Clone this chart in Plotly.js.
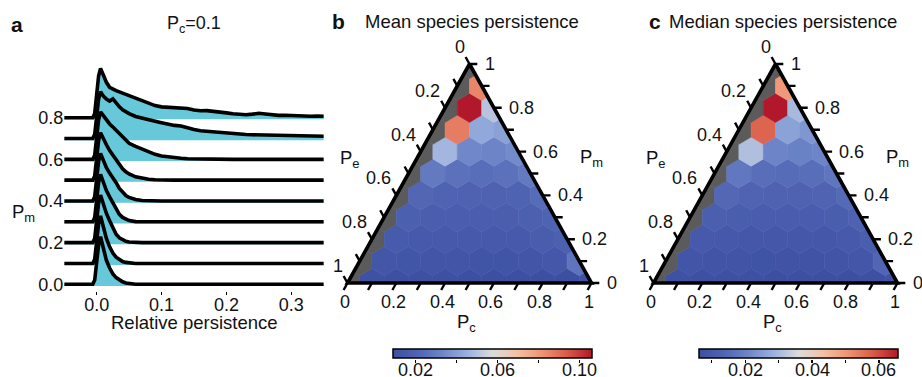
<!DOCTYPE html>
<html>
<head>
<meta charset="utf-8">
<script src="https://cdn.plot.ly/plotly-3.0.1.min.js"></script>
<style>
  html, body { margin: 0; padding: 0; background: #ffffff; }
  #chart { width: 922px; height: 377px; }
</style>
</head>
<body>
<div id="chart"></div>
<script>
// ---------- Panel a: distributions of relative persistence (Pc = 0.1) ----------
const persistX = [-0.05, -0.006, -0.003, 0, 0.003, 0.006, 0.01, 0.015, 0.02, 0.025,
  0.03, 0.035, 0.04, 0.045, 0.05, 0.06, 0.07, 0.08, 0.09, 0.1,
  0.11, 0.12, 0.13, 0.14, 0.15, 0.16, 0.17, 0.18, 0.19, 0.2,
  0.21, 0.22, 0.23, 0.24, 0.25, 0.26, 0.27, 0.28, 0.29, 0.3,
  0.31, 0.32, 0.33, 0.34, 0.35];

const pmLevels = [0.8, 0.7, 0.6, 0.5, 0.4, 0.3, 0.2, 0.1, 0.0];
const pmTickVals = [0, 0.2, 0.4, 0.6, 0.8];
const pmTickText = ['0.0', '0.2', '0.4', '0.6', '0.8'];
const persistTickVals = [0, 0.1, 0.2, 0.3];
const persistTickText = ['0.0', '0.1', '0.2', '0.3'];

const density08 = [0, 0, 0.02, 0.11, 0.20, 0.237, 0.205, 0.17, 0.146, 0.136,
  0.13, 0.124, 0.118, 0.11, 0.103, 0.09, 0.078, 0.067, 0.058, 0.052,
  0.05, 0.047, 0.042, 0.044, 0.037, 0.033, 0.034, 0.029, 0.027, 0.023,
  0.019, 0.017, 0.014, 0.017, 0.021, 0.018, 0.014, 0.011, 0.012, 0.010,
  0.009, 0.008, 0.007, 0.008, 0.007];
const density07 = [0, 0, 0.02, 0.10, 0.19, 0.225, 0.205, 0.19, 0.18, 0.19,
  0.168, 0.152, 0.138, 0.128, 0.12, 0.106, 0.097, 0.09, 0.083, 0.076,
  0.069, 0.063, 0.06, 0.05, 0.043, 0.037, 0.034, 0.03, 0.027, 0.025,
  0.022, 0.022, 0.019, 0.018, 0.017, 0.016, 0.015, 0.016, 0.014, 0.013,
  0.012, 0.013, 0.012, 0.011, 0.011];
const density06 = [0, 0, 0.02, 0.10, 0.19, 0.228, 0.21, 0.19, 0.17, 0.155,
  0.14, 0.122, 0.104, 0.09, 0.077, 0.062, 0.048, 0.035, 0.024, 0.016,
  0.011, 0.007, 0.005, 0.003, 0.002, 0.001, 0, 0, 0, 0,
  0, 0, 0, 0, 0, 0, 0, 0, 0, 0,
  0, 0, 0, 0, 0];
const density05 = [0, 0, 0.02, 0.10, 0.19, 0.228, 0.20, 0.17, 0.142, 0.12,
  0.1, 0.076, 0.055, 0.04, 0.03, 0.016, 0.008, 0.004, 0.002, 0,
  0, 0, 0, 0, 0, 0, 0, 0, 0, 0,
  0, 0, 0, 0, 0, 0, 0, 0, 0, 0,
  0, 0, 0, 0, 0];
const density04 = [0, 0, 0.02, 0.10, 0.19, 0.228, 0.195, 0.16, 0.134, 0.114,
  0.088, 0.06, 0.04, 0.026, 0.017, 0.007, 0.002, 0, 0, 0,
  0, 0, 0, 0, 0, 0, 0, 0, 0, 0,
  0, 0, 0, 0, 0, 0, 0, 0, 0, 0,
  0, 0, 0, 0, 0];
const density03 = [0, 0, 0.02, 0.10, 0.19, 0.228, 0.19, 0.15, 0.12, 0.09,
  0.06, 0.036, 0.021, 0.011, 0.006, 0.001, 0, 0, 0, 0,
  0, 0, 0, 0, 0, 0, 0, 0, 0, 0,
  0, 0, 0, 0, 0, 0, 0, 0, 0, 0,
  0, 0, 0, 0, 0];
const density02 = [0, 0, 0.02, 0.10, 0.19, 0.228, 0.185, 0.14, 0.105, 0.068,
  0.04, 0.023, 0.012, 0.006, 0.003, 0, 0, 0, 0, 0,
  0, 0, 0, 0, 0, 0, 0, 0, 0, 0,
  0, 0, 0, 0, 0, 0, 0, 0, 0, 0,
  0, 0, 0, 0, 0];
const density01 = [0, 0, 0.02, 0.10, 0.19, 0.228, 0.175, 0.12, 0.08, 0.05,
  0.03, 0.017, 0.009, 0.005, 0.002, 0, 0, 0, 0, 0,
  0, 0, 0, 0, 0, 0, 0, 0, 0, 0,
  0, 0, 0, 0, 0, 0, 0, 0, 0, 0,
  0, 0, 0, 0, 0];
const density00 = [0, 0, 0.02, 0.10, 0.19, 0.228, 0.17, 0.115, 0.078, 0.05,
  0.032, 0.02, 0.012, 0.006, 0.003, 0, 0, 0, 0, 0,
  0, 0, 0, 0, 0, 0, 0, 0, 0, 0,
  0, 0, 0, 0, 0, 0, 0, 0, 0, 0,
  0, 0, 0, 0, 0];
const densities = [density08, density07, density06, density05, density04,
  density03, density02, density01, density00];

// ---------- Panels b, c: hexagon cells, rows by Pm (0 .. 1), columns by Pc ----------
// null = no persistence recorded (drawn grey)
const gridStep = 0.1;
const meanPersistence = [
  [null, 0.0105, 0.0100, 0.0098, 0.0096, 0.0095, 0.0094, 0.0093, 0.0092, 0.0095, 0.0110],
  [null, 0.0135, 0.0130, 0.0128, 0.0126, 0.0125, 0.0125, 0.0128, 0.0140, 0.0270],
  [null, 0.0160, 0.0155, 0.0150, 0.0150, 0.0150, 0.0155, 0.0170, 0.0190],
  [null, 0.0190, 0.0180, 0.0175, 0.0175, 0.0180, 0.0190, 0.0210],
  [null, 0.0220, 0.0210, 0.0200, 0.0200, 0.0210, 0.0240],
  [null, 0.0290, 0.0260, 0.0250, 0.0260, 0.0290],
  [null, 0.0470, 0.0340, 0.0330, 0.0350],
  [null, 0.0870, 0.0430, 0.0410],
  [null, 0.1062, 0.0510],
  [null, 0.0850],
  [null]
];
const medianPersistence = [
  [null, 0.0070, 0.0068, 0.0066, 0.0065, 0.0064, 0.0064, 0.0063, 0.0064, 0.0066, 0.0075],
  [null, 0.0085, 0.0082, 0.0080, 0.0079, 0.0078, 0.0078, 0.0080, 0.0088, 0.0140],
  [null, 0.0100, 0.0095, 0.0093, 0.0092, 0.0092, 0.0093, 0.0100, 0.0115],
  [null, 0.0120, 0.0115, 0.0110, 0.0110, 0.0110, 0.0115, 0.0130],
  [null, 0.0145, 0.0135, 0.0130, 0.0130, 0.0135, 0.0150],
  [null, 0.0180, 0.0160, 0.0155, 0.0160, 0.0175],
  [null, 0.0310, 0.0210, 0.0200, 0.0210],
  [null, 0.0570, 0.0260, 0.0240],
  [null, 0.0658, 0.0300],
  [null, 0.0500],
  [null]
];
const meanRange = [0.0092, 0.1062];
const medianRange = [0.0063, 0.0658];
const meanBarTicks = [0.02, 0.04, 0.06, 0.08, 0.10];
const meanBarLabels = [0.02, 0.06, 0.10];
const meanBarText = ['0.02', '0.06', '0.10'];
const medianBarTicks = [0.01, 0.02, 0.03, 0.04, 0.05, 0.06];
const medianBarLabels = [0.02, 0.04, 0.06];
const medianBarText = ['0.02', '0.04', '0.06'];
const ternaryTickVals = [0, 0.1, 0.2, 0.3, 0.4, 0.5, 0.6, 0.7, 0.8, 0.9, 1];
const ternaryLabelVals = [0, 0.2, 0.4, 0.6, 0.8, 1];
const ternaryLabelText = ['0', '0.2', '0.4', '0.6', '0.8', '1'];

// ---------- styling ----------
const W = 922, H = 377;
const FONT = 'Liberation Sans, Arial, Helvetica, sans-serif';
const INK = '#111111';
const RIDGE_FILL = '#66C8D8';
const EMPTY_CELL = '#5B5B5B';
const divergingScale = [
  [0, '#3C4FA2'], [0.125, '#5064B3'], [0.25, '#6E86C8'], [0.375, '#9BB1DF'],
  [0.5, '#DCDCDC'], [0.625, '#F3C0A6'], [0.75, '#EF9374'], [0.875, '#D95B48'],
  [1, '#B2182B']
];
// colour bar geometry (pixels)
const BAR_TOP = 349, BAR_BOTTOM = 358.5, BAR_LABEL_Y = 370;
const BAR_B = [393.3, 592.3], BAR_C = [699.3, 898.3];

const px2x = px => px / W;
const px2y = py => 1 - py / H;
const xDom = (a, b) => [a / W, b / W];
const yDom = (top, bottom) => [1 - bottom / H, 1 - top / H];

function hexToRgb(h) {
  const n = parseInt(h.slice(1), 16);
  return [(n >> 16) & 255, (n >> 8) & 255, n & 255];
}
function scaleColor(v, lo, hi) {
  let t = (v - lo) / (hi - lo);
  t = Math.max(0, Math.min(1, t));
  for (let k = 1; k < divergingScale.length; k++) {
    const [t1, c1] = divergingScale[k];
    const [t0, c0] = divergingScale[k - 1];
    if (t <= t1) {
      const f = (t - t0) / (t1 - t0);
      const a = hexToRgb(c0), b = hexToRgb(c1);
      const m = a.map((x, i) => Math.round(x + (b[i] - x) * f));
      return `rgb(${m[0]},${m[1]},${m[2]})`;
    }
  }
  return divergingScale[divergingScale.length - 1][1];
}

// ternary (Pc, Pm) -> plane coordinates; the Pe = 1 corner sits at the origin
const toPlane = (pc, pm) => [pc + pm / 2, pm];

// clip a polygon to the simplex using its three edge half-planes
const edgeTests = [
  p => p[1],                 // Pm >= 0
  p => 2 * p[0] - p[1],      // Pc >= 0
  p => 2 - 2 * p[0] - p[1]   // Pe >= 0
];
function clipToSimplex(poly) {
  let out = poly;
  edgeTests.forEach(f => {
    const inp = out; out = [];
    for (let i = 0; i < inp.length; i++) {
      const a = inp[i], b = inp[(i + 1) % inp.length];
      const fa = f(a), fb = f(b);
      if (fa >= 0) out.push(a);
      if ((fa >= 0) !== (fb >= 0)) {
        const s = fa / (fa - fb);
        out.push([a[0] + (b[0] - a[0]) * s, a[1] + (b[1] - a[1]) * s]);
      }
    }
  });
  return out;
}

const traces = [];

// ---------- panel a traces: lower ridges drawn over upper ones ----------
const fillDrop = 0.008;
pmLevels.forEach((lv, i) => {
  const top = densities[i].map(v => lv + v);
  const base = persistX.map(() => lv - fillDrop);
  traces.push({
    x: persistX.concat(persistX.slice().reverse()),
    y: top.concat(base.slice().reverse()),
    mode: 'lines', fill: 'toself', fillcolor: RIDGE_FILL,
    line: { width: 0 }, xaxis: 'x', yaxis: 'y',
    hoverinfo: 'skip', showlegend: false
  });
  traces.push({
    x: persistX, y: top, mode: 'lines',
    line: { color: '#000000', width: 3.6 },
    xaxis: 'x', yaxis: 'y', hoverinfo: 'skip', showlegend: false
  });
});

// ---------- panels b, c ----------
function ternaryPanel(grid, range, xa, ya, barPx, barLabels, barText, tickAxis) {
  const cx = [], cy = [], cv = [];
  grid.forEach((row, j) => {
    const pm = j * gridStep;
    row.forEach((val, i) => {
      const pc = i * gridStep;
      const [X, Y] = toPlane(pc, pm);
      const hw = gridStep / 2, hv = gridStep / 3;
      const hex = [[X, Y + 2 * hv], [X + hw, Y + hv], [X + hw, Y - hv],
                   [X, Y - 2 * hv], [X - hw, Y - hv], [X - hw, Y + hv]];
      const poly = clipToSimplex(hex);
      if (poly.length < 3) return;
      const col = val === null ? EMPTY_CELL : scaleColor(val, range[0], range[1]);
      traces.push({
        x: poly.map(p => p[0]).concat([poly[0][0]]),
        y: poly.map(p => p[1]).concat([poly[0][1]]),
        mode: 'lines', fill: 'toself', fillcolor: col,
        line: { color: col, width: 0.6 },
        xaxis: xa, yaxis: ya, hoverinfo: 'skip', showlegend: false
      });
      if (val !== null) { cx.push(X); cy.push(Y); cv.push(val); }
    });
  });

  // triangle frame
  const corners = [toPlane(0, 0), toPlane(1, 0), toPlane(0, 1)];
  traces.push({
    x: [corners[0][0], corners[1][0], corners[2][0], corners[0][0], corners[1][0]],
    y: [corners[0][1], corners[1][1], corners[2][1], corners[0][1], corners[1][1]],
    mode: 'lines', line: { color: '#000000', width: 3.6 },
    xaxis: xa, yaxis: ya, hoverinfo: 'skip', showlegend: false
  });

  // tick marks: each one continues a grid line beyond its edge
  const t = 0.032;
  const tx = [], ty = [];
  ternaryTickVals.forEach(v => {
    // Pc along the bottom edge
    let a = toPlane(v, 0), b = toPlane(v, -t);
    tx.push(a[0], b[0], null); ty.push(a[1], b[1], null);
    // Pm along the right edge
    a = toPlane(1 - v, v); b = toPlane(1 - v + t, v);
    tx.push(a[0], b[0], null); ty.push(a[1], b[1], null);
    // Pe along the left edge
    a = toPlane(0, 1 - v); b = toPlane(-t, 1 - v + t);
    tx.push(a[0], b[0], null); ty.push(a[1], b[1], null);
  });
  traces.push({
    x: tx, y: ty, mode: 'lines', line: { color: '#000000', width: 2.4 },
    xaxis: xa, yaxis: ya, hoverinfo: 'skip', showlegend: false
  });

  // colour bar carrier
  traces.push({
    x: cx, y: cy, mode: 'markers', xaxis: xa, yaxis: ya,
    hoverinfo: 'skip', showlegend: false,
    marker: {
      size: 1, opacity: 0, color: cv, colorscale: divergingScale,
      cmin: range[0], cmax: range[1], showscale: true,
      colorbar: {
        orientation: 'h', x: px2x((barPx[0] + barPx[1]) / 2), xanchor: 'center',
        y: px2y(BAR_TOP), yanchor: 'top',
        len: barPx[1] - barPx[0], lenmode: 'pixels', thickness: 9, thicknessmode: 'pixels',
        outlinewidth: 1.5, outlinecolor: '#000000', borderwidth: 0,
        xpad: 0, ypad: 0, ticks: '', showticklabels: false
      }
    }
  });
  // carrier for the colour-bar tick axis
  traces.push({
    x: [range[0]], y: [0.5], mode: 'markers', marker: { opacity: 0, size: 1 },
    xaxis: tickAxis[0], yaxis: tickAxis[1], hoverinfo: 'skip', showlegend: false
  });

  const ann = [];
  // colour-bar labels, placed on the bar's own value axis
  barLabels.forEach((v, k) => {
    ann.push({ x: v, xref: tickAxis[0], y: px2y(BAR_LABEL_Y), yref: 'paper', text: barText[k],
      showarrow: false, xanchor: 'center', yanchor: 'middle',
      font: { family: FONT, size: 18, color: INK } });
  });

  // edge labels
  ternaryLabelVals.forEach((v, k) => {
    const txt = ternaryLabelText[k];
    let p = toPlane(v, 0);
    ann.push({ x: p[0], y: p[1], xref: xa, yref: ya, text: txt, showarrow: false,
      xanchor: 'center', yanchor: 'middle', xshift: -3, yshift: -19,
      font: { family: FONT, size: 18, color: INK } });
    p = toPlane(1 - v, v);
    ann.push({ x: p[0], y: p[1], xref: xa, yref: ya, text: txt, showarrow: false,
      xanchor: 'left', yanchor: 'middle', xshift: 13, yshift: 0,
      font: { family: FONT, size: 18, color: INK } });
    p = toPlane(0, 1 - v);
    ann.push({ x: p[0], y: p[1], xref: xa, yref: ya, text: txt, showarrow: false,
      xanchor: 'right', yanchor: 'middle', xshift: -3, yshift: 17,
      font: { family: FONT, size: 18, color: INK } });
  });
  return ann;
}

const annB = ternaryPanel(meanPersistence, meanRange, 'x2', 'y2', BAR_B, meanBarLabels, meanBarText, ['x4', 'y4']);
const annC = ternaryPanel(medianPersistence, medianRange, 'x3', 'y3', BAR_C, medianBarLabels, medianBarText, ['x5', 'y5']);

function label(text, px, py, size, bold) {
  return { x: px2x(px), y: px2y(py), xref: 'paper', yref: 'paper', text: bold ? `<b>${text}</b>` : text,
    showarrow: false, xanchor: 'center', yanchor: 'middle',
    font: { family: FONT, size: size, color: INK } };
}

const annotations = [
  label('a', 17, 24, 21, true),
  label('P<sub>c</sub>=0.1', 194, 25, 18, false),
  label('P<sub>m</sub>', 23, 213, 18.5, false),
  label('Relative persistence', 194, 322, 18.5, false),
  label('b', 338, 22, 21, true),
  label('Mean species persistence', 472, 21, 18.5, false),
  label('c', 655, 22, 21, true),
  label('Median species persistence', 783, 21, 18.5, false),
  label('P<sub>e</sub>', 350, 159, 18.5, false),
  label('P<sub>m</sub>', 591, 158, 18.5, false),
  label('P<sub>c</sub>', 466, 323, 18.5, false),
  label('P<sub>e</sub>', 656, 159, 18.5, false),
  label('P<sub>m</sub>', 897, 158, 18.5, false),
  label('P<sub>c</sub>', 772, 323, 18.5, false)
].concat(annB, annC);

const hidden = { visible: false, fixedrange: true };
function barTickAxis(px, range, ticks, yName) {
  return {
    domain: xDom(px[0], px[1]), range: range, anchor: yName,
    showgrid: false, zeroline: false, showline: false, showticklabels: false,
    tickmode: 'array', tickvals: ticks, ticks: 'outside', ticklen: 3,
    tickwidth: 1.2, tickcolor: '#000000', fixedrange: true
  };
}
const layout = {
  width: W, height: H,
  margin: { l: 0, r: 0, t: 0, b: 0, autoexpand: false },
  paper_bgcolor: '#ffffff', plot_bgcolor: 'rgba(0,0,0,0)',
  font: { family: FONT, color: INK },
  showlegend: false,
  xaxis: {
    domain: xDom(64.2, 323.8), range: [-0.05, 0.35],
    showgrid: false, zeroline: false, showline: false,
    tickmode: 'array', tickvals: persistTickVals, ticktext: persistTickText,
    ticks: 'outside', ticklen: 3, tickwidth: 1.2, tickcolor: '#000000',
    ticklabelstandoff: -5,
    tickfont: { family: FONT, size: 18, color: INK },
    automargin: false, fixedrange: true
  },
  yaxis: {
    domain: yDom(59.4, 290.5), range: [-0.03, 1.08],
    showgrid: false, zeroline: false, showline: false,
    tickmode: 'array', tickvals: pmTickVals, ticktext: pmTickText,
    ticks: '', tickfont: { family: FONT, size: 18, color: INK },
    automargin: false, fixedrange: true
  },
  xaxis2: Object.assign({ domain: xDom(323.1, 615.9), range: [-0.1, 1.1] }, hidden),
  yaxis2: Object.assign({ domain: yDom(31.15, 326.8), range: [-0.2, 1.15] }, hidden),
  xaxis3: Object.assign({ domain: xDom(629.1, 921.9), range: [-0.1, 1.1] }, hidden),
  yaxis3: Object.assign({ domain: yDom(31.15, 326.8), range: [-0.2, 1.15] }, hidden),
  xaxis4: barTickAxis(BAR_B, meanRange, meanBarTicks, 'y4'),
  yaxis4: Object.assign({ domain: yDom(BAR_TOP, BAR_BOTTOM), range: [0, 1], anchor: 'x4' }, hidden),
  xaxis5: barTickAxis(BAR_C, medianRange, medianBarTicks, 'y5'),
  yaxis5: Object.assign({ domain: yDom(BAR_TOP, BAR_BOTTOM), range: [0, 1], anchor: 'x5' }, hidden),
  annotations: annotations
};

Plotly.newPlot('chart', traces, layout, { displayModeBar: false, staticPlot: true });
</script>
</body>
</html>
